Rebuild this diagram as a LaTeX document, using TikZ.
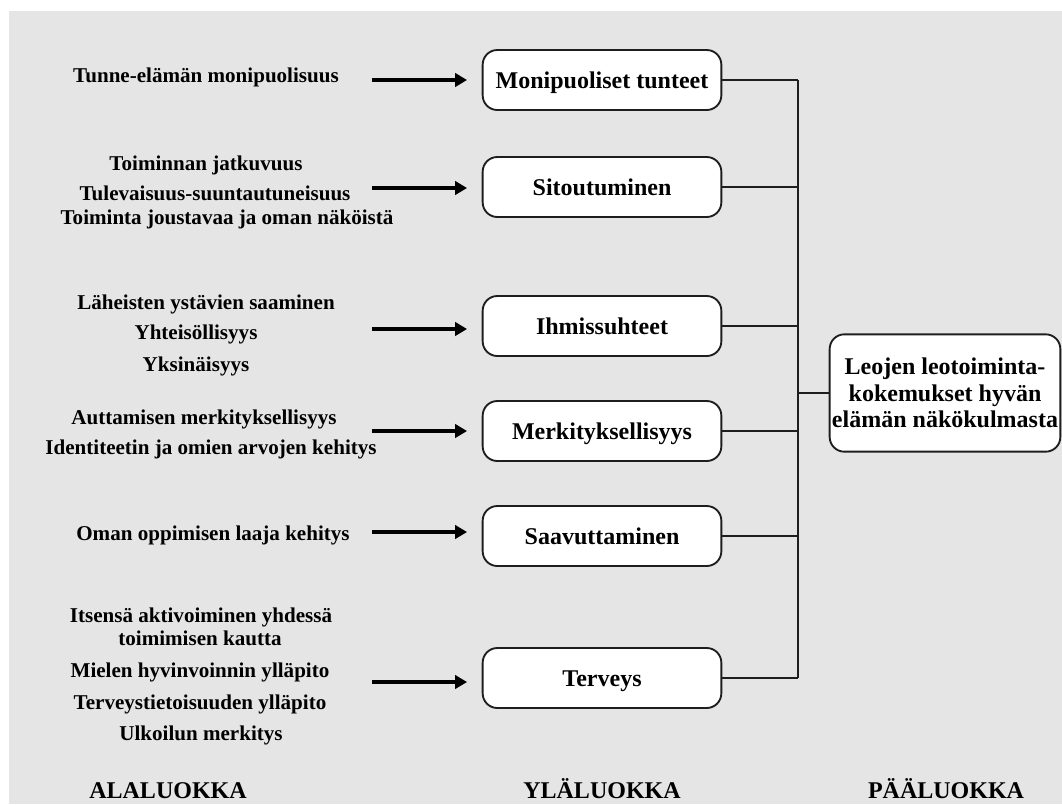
\documentclass[tikz,border=0pt]{standalone}
\usepackage{fontspec}
\setmainfont{Liberation Serif}
\usetikzlibrary{arrows.meta}

\definecolor{bggray}{HTML}{E5E5E5}
\definecolor{linegray}{HTML}{1E1E1E}

\tikzset{
  catbox/.style={draw=linegray, line width=1.4pt, fill=white, rounded corners=11pt,
    minimum width=179pt, minimum height=45pt, inner sep=0pt,
    font=\fontsize{18}{20}\selectfont\bfseries, text height=12pt, text depth=0pt},
  mainbox/.style={catbox, minimum width=173pt, minimum height=88pt, align=center,
    text height=, text depth=},
  subtext/.style={anchor=base, inner sep=0pt, font=\fontsize{15.8}{18}\selectfont\bfseries},
  levtext/.style={anchor=base, inner sep=0pt, font=\fontsize{18}{20}\selectfont\bfseries},
  inarrow/.style={line width=2.4pt, -{Triangle[length=9pt,width=10pt]}, shorten >=11pt},
  joinline/.style={draw=linegray, line width=1.4pt}
}

\begin{document}
\begin{tikzpicture}[x=0.75pt, y=-0.75pt]
  \useasboundingbox (0,0) rectangle (1062,804);
  \fill[bggray] (9,11) rectangle (1062,804);

  % ylaluokat
  \node[catbox] (b1) at (602,80)  {Monipuoliset tunteet};
  \node[catbox] (b2) at (602,187) {Sitoutuminen};
  \node[catbox] (b3) at (602,326) {Ihmissuhteet};
  \node[catbox] (b4) at (602,431) {Merkityksellisyys};
  \node[catbox] (b5) at (602,536) {Saavuttaminen};
  \node[catbox] (b6) at (602,678) {Terveys};

  % paaluokka
  \node[mainbox] (main) at (945,393) {Leojen leotoiminta-\\kokemukset hyvän\\elämän näkökulmasta};

  % alaluokat
  \node[subtext] (t1a) at (206,82)  {Tunne-elämän monipuolisuus};

  \node[subtext] (t2a) at (206,170) {Toiminnan jatkuvuus};
  \node[subtext] (t2b) at (215,200) {Tulevaisuus-suuntautuneisuus};
  \node[subtext] (t2c) at (227,224) {Toiminta joustavaa ja oman näköistä};

  \node[subtext] (t3a) at (206,309) {Läheisten ystävien saaminen};
  \node[subtext] (t3b) at (196,339) {Yhteisöllisyys};
  \node[subtext] (t3c) at (196,371) {Yksinäisyys};

  \node[subtext] (t4a) at (204,424) {Auttamisen merkityksellisyys};
  \node[subtext] (t4b) at (211,454) {Identiteetin ja omien arvojen kehitys};

  \node[subtext] (t5a) at (213,540) {Oman oppimisen laaja kehitys};

  \node[subtext] (t6a) at (201,622) {Itsensä aktivoiminen yhdessä};
  \node[subtext] (t6b) at (200,645) {toimimisen kautta};
  \node[subtext] (t6c) at (200,677) {Mielen hyvinvoinnin ylläpito};
  \node[subtext] (t6d) at (200,709) {Terveystietoisuuden ylläpito};
  \node[subtext] (t6e) at (201,740) {Ulkoilun merkitys};

  % tasojen nimet
  \node[levtext] (l1) at (168,798) {ALALUOKKA};
  \node[levtext] (l2) at (602,798) {YLÄLUOKKA};
  \node[levtext] (l3) at (946,798) {PÄÄLUOKKA};

  % nuolet
  \coordinate (s1) at (372,80);
  \coordinate (s2) at (372,188);
  \coordinate (s3) at (372,329);
  \coordinate (s4) at (372,431);
  \coordinate (s5) at (372,532);
  \coordinate (s6) at (372,682);
  \foreach \i in {1,...,6}
    \draw[inarrow] (s\i) -- (s\i -| b\i.west);

  % kokoava viiva
  \coordinate (bar) at (798,80);
  \foreach \i in {1,...,6}
    \draw[joinline] (b\i.east) -- (b\i.east -| bar);
  \draw[joinline] (b1.east -| bar) -- (b6.east -| bar);
  \draw[joinline] (main.west) -- (main.west -| bar);
\end{tikzpicture}
\end{document}
